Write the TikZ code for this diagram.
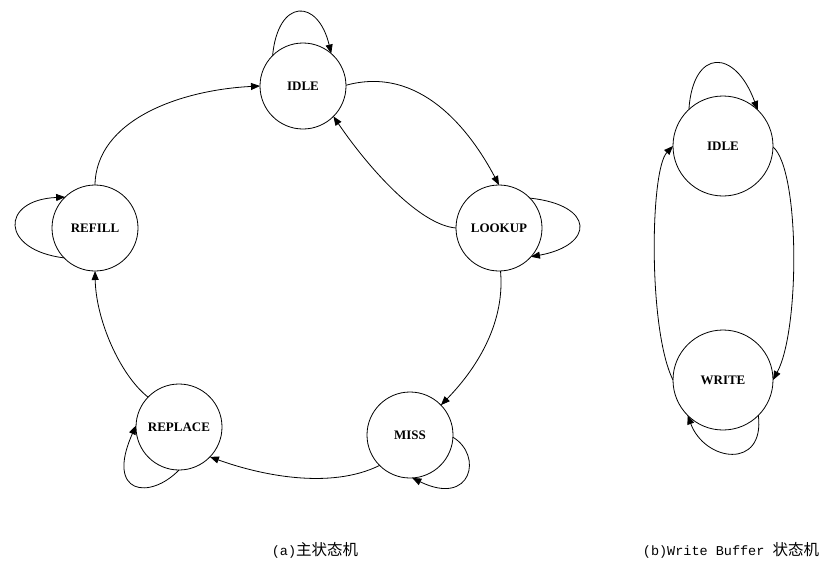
\documentclass[tikz,border=0pt]{standalone}
\usepackage{fontspec}
\setmainfont{Liberation Serif}
\setmonofont{Liberation Mono}
\newfontfamily\cjk{Noto Sans CJK SC}
\usetikzlibrary{arrows.meta}
\tikzset{
  state/.style={circle,draw,line width=0.8pt,inner sep=0pt,outer sep=0pt,minimum size=86pt,
    font=\bfseries\fontsize{13}{13}\selectfont},
  bigstate/.style={state,minimum size=100pt},
  edge/.style={line width=0.8pt,-{Triangle[length=9pt,width=7pt]}},
  caption/.style={inner sep=0pt,anchor=center}
}
\begin{document}
\begin{tikzpicture}[x=1pt,y=-1pt]
\useasboundingbox (0,0) rectangle (827,568);
% (a) main FSM
\node[state] (idle) at (303,86) {IDLE};
\node[state] (lookup) at (499,228) {LOOKUP};
\node[state] (miss) at (410,435) {MISS};
\node[state] (replace) at (179,427) {REPLACE};
\node[state] (refill) at (95,228) {REFILL};
% loops
\draw[edge] (idle.135) .. controls (278,-2) and (318,-2) .. (idle.49);
\draw[edge] (lookup.44) .. controls (595,205) and (595,245) .. (lookup.-42);
\draw[edge] (miss.-3) .. controls (483,455) and (472,507) .. (miss.-87);
\draw[edge] (replace.-90) .. controls (150,500) and (105,495) .. (replace.178);
\draw[edge] (refill.224) .. controls (0,250) and (0,200) .. (refill.134);
% transitions
\draw[edge] (idle.1) .. controls (420,65) and (470,130) .. (lookup.90);
\draw[edge] (lookup.180) .. controls (420,225) and (370,170) .. (idle.-45);
\draw[edge] (lookup.-88) .. controls (505,320) and (480,365) .. (miss.44);
\draw[edge] (miss.225) .. controls (330,490) and (260,475) .. (replace.-44);
\draw[edge] (replace.136) .. controls (120,375) and (96,320) .. (refill.-90);
\draw[edge] (refill.90) .. controls (96,120) and (180,90) .. (idle.180);
% (b) write buffer FSM
\node[bigstate] (widle) at (723,146) {IDLE};
\node[bigstate] (write) at (723,380) {WRITE};
\draw[edge] (widle.133) .. controls (693,48) and (735,48) .. (widle.46);
\draw[edge] (widle.-1) .. controls (800,170) and (800,330) .. (write.0);
\draw[edge] (write.180) .. controls (648,330) and (650,170) .. (widle.180);
\draw[edge] (write.-45) .. controls (765,470) and (705,462) .. (write.-135);
% captions
\node[caption] (capa) at (315,550) {{\ttfamily\fontsize{13.5}{13.5}\selectfont (a)}{\cjk\fontsize{15.5}{15.5}\selectfont 主状态机}};
\node[caption] (capb) at (731,550) {{\ttfamily\fontsize{13.5}{13.5}\selectfont (b)Write Buffer }{\cjk\fontsize{15.5}{15.5}\selectfont 状态机}};
\end{tikzpicture}
\end{document}
